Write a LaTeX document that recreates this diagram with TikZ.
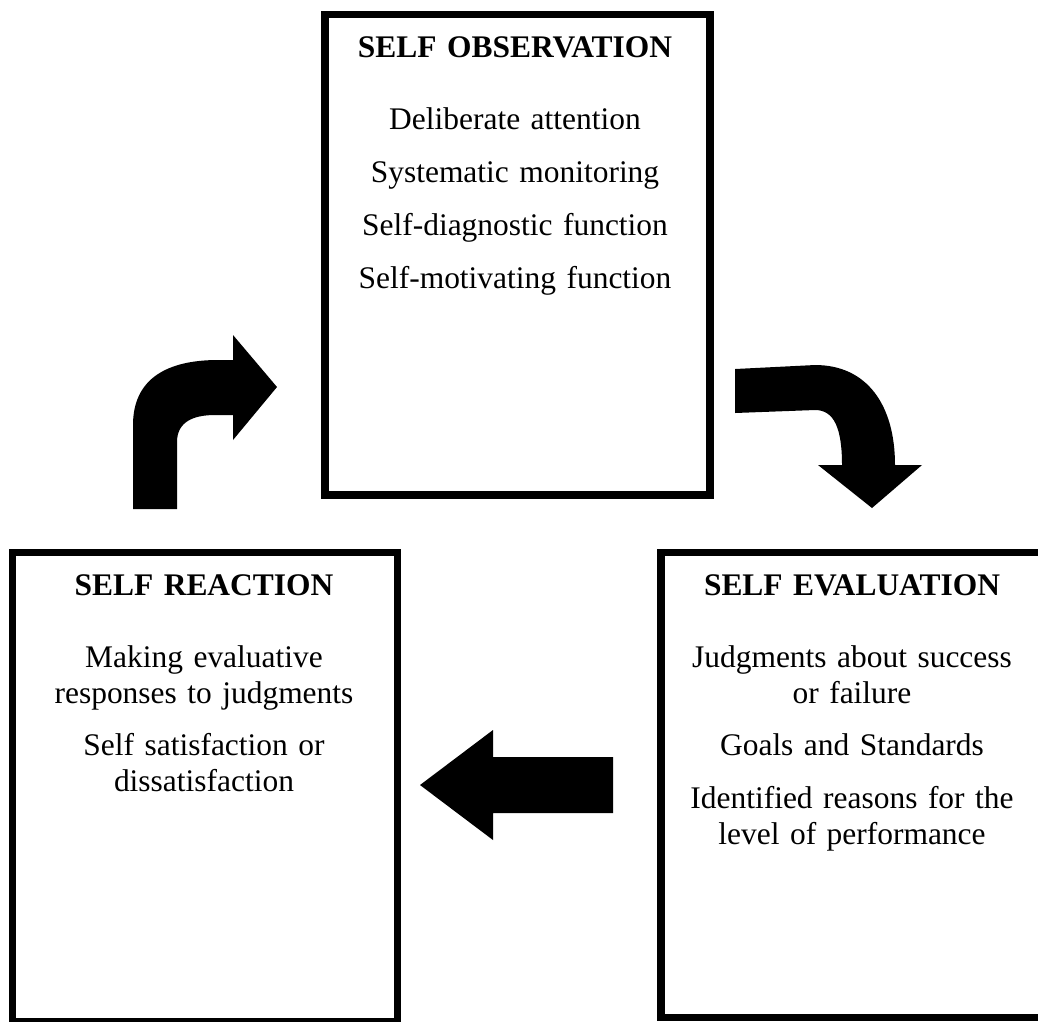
\documentclass[tikz,border=0pt]{standalone}
\usepackage{fontspec}
\setmainfont{Liberation Serif}
\usetikzlibrary{positioning}
\tikzset{
box/.style={draw, line width=1.5mm, inner sep=0pt, minimum width=77mm}, % the three frames
txt/.style={anchor=base, align=center, text width=72mm, inner sep=0pt,
  font=\fontsize{17.9}{20.5}\selectfont}, % one paragraph
ttl/.style={txt, font=\fontsize{17.9}{20.5}\selectfont\bfseries}, % heading
blockarrow/.style={fill=black}, % the fat arrows
}

\begin{document}
\begin{tikzpicture}[x=0.2mm, y=-0.2mm]
  \useasboundingbox (0,0) rectangle (1038,1021);
  \clip (0,0) rectangle (1038,1021);
  % frames
  \node[box, minimum height=96.1mm] (obs) at (517.5,254.75) {};
  \node[box, minimum height=93.9mm] (react) at (205,787.25) {};
  \node[box, minimum height=93mm] (eval) at (853.5,785) {};
  % top frame
  \node[ttl] (obs-t) at (515,57) {SELF OBSERVATION};
  \node[txt] (obs-1) at (515,129) {Deliberate attention};
  \node[txt] (obs-2) at (515,182) {Systematic monitoring};
  \node[txt] (obs-3) at (515,235) {Self-diagnostic function};
  \node[txt] (obs-4) at (515,288) {Self-motivating function};
  % left frame
  \node[ttl] (react-t) at (204,595) {SELF REACTION};
  \node[txt] (react-1) at (204,667) {Making evaluative\\responses to judgments};
  \node[txt] (react-2) at (204,755) {Self satisfaction or\\dissatisfaction};
  % right frame
  \node[ttl] (eval-t) at (852,595) {SELF EVALUATION};
  \node[txt] (eval-1) at (852,667) {Judgments about success\\or failure};
  \node[txt] (eval-2) at (852,755) {Goals and Standards};
  \node[txt] (eval-3) at (852,808) {Identified reasons for the\\level of performance};
  % arrows
  \fill[blockarrow] (133,509) -- (133,425) .. controls (133,378) and (168,360) .. (218,360)
    -- (233,360) -- (233,335) -- (277,387) -- (233,440) -- (233,415) -- (215,415)
    .. controls (193,415) and (177,422) .. (177,442) -- (177,509) -- cycle;
  \fill[blockarrow] (735,369) -- (815,365) .. controls (867,365) and (895,405) .. (895,465)
    -- (922,465) -- (872,508) -- (818,465) -- (842,465)
    .. controls (842,428) and (834,410) .. (815,410) -- (735,413) -- cycle;
  \fill[blockarrow] (613,757) -- (493,757) -- (493,730) -- (420,785) -- (493,840)
    -- (493,813) -- (613,813) -- cycle;
\end{tikzpicture}
\end{document}
